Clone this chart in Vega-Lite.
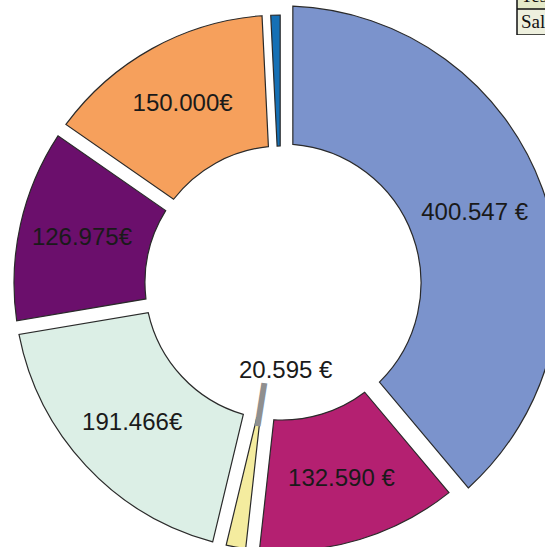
{
  "$schema": "https://vega.github.io/schema/vega-lite/v6.json",
  "width": 564,
  "height": 566,
  "autosize": {"type": "none"},
  "padding": 0,
  "background": "white",
  "config": {"view": {"stroke": null}},
  "datasets": {
    "slices": [
      {"k": "A", "v": 400547, "label": "400.547 €", "inner": "", "i": 1},
      {"k": "B", "v": 132590, "label": "132.590 €", "inner": "", "i": 2},
      {"k": "C", "v": 20595, "label": "", "inner": "20.595 €", "i": 3},
      {"k": "D", "v": 191466, "label": "191.466€", "inner": "", "i": 4},
      {"k": "E", "v": 126975, "label": "126.975€", "inner": "", "i": 5},
      {"k": "F", "v": 150000, "label": "150.000€", "inner": "", "i": 6},
      {"k": "G", "v": 8000, "label": "", "inner": "", "i": 7}
    ],
    "table": [
      {"row": "Tesoreria"},
      {"row": "Saldo"}
    ]
  },
  "layer": [
    {
      "data": {"name": "slices"},
      "mark": {
        "type": "arc",
        "innerRadius": {"expr": "datum.k == 'A' ? 139 : 137"},
        "outerRadius": {"expr": "datum.k == 'A' ? 277 : 268"},
        "padAngle": {"expr": "datum.k == 'G' ? 0.012 : datum.k == 'A' ? 0.07 : 0.046"},
        "stroke": "#2a2a2a",
        "strokeWidth": 1.2
      },
      "encoding": {
        "theta": {"field": "v", "type": "quantitative", "stack": true, "scale": {"nice": false, "zero": true}},
        "order": {"field": "i", "type": "quantitative"},
        "color": {
          "field": "k",
          "type": "nominal",
          "legend": null,
          "scale": {
            "domain": ["A", "B", "C", "D", "E", "F", "G"],
            "range": ["#7b93cc", "#b42071", "#f4ec9f", "#dcefe6", "#6b0f6c", "#f6a05c", "#1570b5"]
          }
        }
      }
    },
    {
      "data": {"name": "slices"},
      "mark": {"type": "text", "radius": 121, "angle": 9, "baseline": "middle", "font": "Liberation Sans", "fontWeight": "bold", "fontSize": 46, "fill": "#8f8f8f"},
      "encoding": {
        "theta": {"field": "v", "type": "quantitative", "stack": true},
        "order": {"field": "i", "type": "quantitative"},
        "text": {"condition": {"test": "datum.k == 'C'", "value": "|"}, "value": ""}
      }
    },
    {
      "data": {"name": "slices"},
      "mark": {"type": "text", "radius": 205, "font": "Liberation Sans", "fontSize": 24, "fill": "#1a1a1a"},
      "encoding": {
        "theta": {"field": "v", "type": "quantitative", "stack": true},
        "order": {"field": "i", "type": "quantitative"},
        "text": {"field": "label"}
      }
    },
    {
      "data": {"name": "slices"},
      "mark": {"type": "text", "radius": 89, "dx": 19, "dy": 0, "font": "Liberation Sans", "fontSize": 24, "fill": "#1a1a1a"},
      "encoding": {
        "theta": {"field": "v", "type": "quantitative", "stack": true},
        "order": {"field": "i", "type": "quantitative"},
        "text": {"field": "inner"}
      }
    },
    {
      "data": {"name": "table"},
      "mark": {"type": "point", "filled": true, "opacity": 0},
      "encoding": {
        "fill": {
          "field": "row",
          "type": "nominal",
          "scale": {"domain": ["Tesoreria", "Saldo"], "range": ["#e4e9c8", "#eef0de"]},
          "legend": {
            "title": null,
            "orient": "none",
            "legendX": 516,
            "legendY": -17,
            "padding": 0,
            "rowPadding": 0,
            "clipHeight": 26,
            "symbolSize": 6400,
            "labelOffset": -77,
            "labelFont": "Liberation Serif",
            "labelFontSize": 19,
            "labelColor": "#111111",
            "labelLimit": 200,
            "encode": {
              "symbols": {
                "update": {
                  "opacity": {"value": 1},
                  "fillOpacity": {"value": 1},
                  "strokeOpacity": {"value": 1},
                  "stroke": {"value": "#111111"},
                  "strokeWidth": {"value": 1.5}
                }
              }
            }
          }
        },
        "shape": {
          "field": "row",
          "type": "nominal",
          "scale": {"domain": ["Tesoreria", "Saldo"], "range": ["M-1,-0.325H1V0.325H-1Z", "M-1,-0.325H1V0.325H-1Z"]}
        }
      }
    }
  ]
}
